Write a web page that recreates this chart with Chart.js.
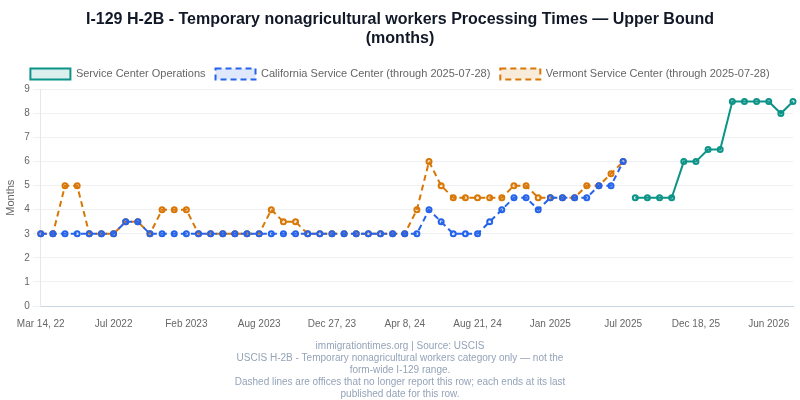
<!DOCTYPE html>
<html>
<head>
<meta charset="utf-8">
<script src="https://cdn.jsdelivr.net/npm/chart.js@4.4.1/dist/chart.umd.min.js"></script>
<style>
html,body{margin:0;padding:0;background:#fff;}
#wrap{width:800px;height:400px;}
</style>
</head>
<body>
<div id="wrap"><canvas id="c"></canvas></div>
<script>
const labels = [
  "Mar 14, 22","Apr 2022","Apr 25, 22","May 2022","May 23, 22","Jun 2022",
  "Jul 2022","Aug 2022","Sep 2022","Oct 2022","Nov 2022","Dec 2022",
  "Feb 2023","Mar 2023","Apr 2023","May 2023","Jun 2023","Jul 2023",
  "Aug 2023","Sep 2023","Oct 2023","Oct 30, 23","Nov 2023","Dec 2023",
  "Dec 27, 23","Jan 2024","Feb 2024","Feb 26, 24","Mar 2024","Mar 25, 24",
  "Apr 8, 24","May 2024","May 20, 24","Jun 2024","Jul 2024","Jul 29, 24",
  "Aug 21, 24","Sep 2024","Oct 2024","Oct 28, 24","Nov 2024","Dec 2024",
  "Jan 2025","Feb 2025","Mar 2025","Apr 2025","May 2025","Jun 2025",
  "Jul 2025","Aug 2025","Sep 2025","Oct 2025","Nov 2025","Nov 20, 25",
  "Dec 18, 25","Jan 2026","Feb 2026","Mar 2026","Apr 2026","May 2026",
  "Jun 2026","Jul 2026","Aug 2026"
];
const serviceCenterOps = [
  null,null,null,null,null,null,null,null,null,null,
  null,null,null,null,null,null,null,null,null,null,
  null,null,null,null,null,null,null,null,null,null,
  null,null,null,null,null,null,null,null,null,null,
  null,null,null,null,null,null,null,null,null,
  4.5,4.5,4.5,4.5,6,6,6.5,6.5,8.5,8.5,8.5,8.5,8,8.5
];
const california = [
  3,3,3,3,3,3,3,3.5,3.5,3,
  3,3,3,3,3,3,3,3,3,3,
  3,3,3,3,3,3,3,3,3,3,
  3,3,4,3.5,3,3,3,3.5,4,4.5,
  4.5,4,4.5,4.5,4.5,4.5,5,5,6,
  null,null,null,null,null,null,null,null,null,null,null,null,null,null
];
const vermont = [
  3,3,5,5,3,3,3,3.5,3.5,3,
  4,4,4,3,3,3,3,3,3,4,
  3.5,3.5,3,3,3,3,3,3,3,3,
  3,4,6,5,4.5,4.5,4.5,4.5,4.5,5,
  5,4.5,4.5,4.5,4.5,5,5,5.5,6,
  null,null,null,null,null,null,null,null,null,null,null,null,null,null
];
const yTicks = [0,1,2,3,4,5,6,7,8,9];

const FONT = "'Liberation Sans', Arial, Helvetica, sans-serif";
Chart.defaults.font.family = FONT;

new Chart(document.getElementById('c'), {
  type: 'line',
  data: {
    labels: labels,
    datasets: [
      {
        label: 'Service Center Operations',
        data: serviceCenterOps,
        borderColor: '#0d9488',
        backgroundColor: 'rgba(13,148,136,0.15)',
        borderWidth: 2,
        pointRadius: 2.5,
        pointBorderWidth: 2,
        tension: 0,
        fill: false,
        spanGaps: false
      },
      {
        label: 'California Service Center (through 2025-07-28)',
        data: california,
        borderColor: '#2563eb',
        backgroundColor: 'rgba(37,99,235,0.15)',
        borderWidth: 2,
        borderDash: [6,4],
        pointRadius: 2.5,
        pointBorderWidth: 2,
        tension: 0,
        fill: false
      },
      {
        label: 'Vermont Service Center (through 2025-07-28)',
        data: vermont,
        borderColor: '#d97706',
        backgroundColor: 'rgba(217,119,6,0.15)',
        borderWidth: 2,
        borderDash: [6,4],
        pointRadius: 2.5,
        pointBorderWidth: 2,
        tension: 0,
        fill: false
      }
    ]
  },
  options: {
    responsive: true,
    maintainAspectRatio: false,
    animation: false,
    layout: { padding: 0 },
    plugins: {
      title: {
        display: true,
        text: ['I-129 H-2B - Temporary nonagricultural workers Processing Times — Upper Bound', '(months)'],
        color: '#111827',
        font: { size: 16, weight: 'bold', family: FONT },
        padding: { top: 10, bottom: 10 }
      },
      legend: {
        display: true,
        position: 'top',
        labels: { color: '#666', font: { size: 11, family: FONT }, boxWidth: 40, boxHeight: 11 }
      },
      subtitle: {
        display: true,
        position: 'bottom',
        text: [
          'immigrationtimes.org | Source: USCIS',
          'USCIS H-2B - Temporary nonagricultural workers category only — not the',
          'form-wide I-129 range.',
          'Dashed lines are offices that no longer report this row; each ends at its last',
          'published date for this row.'
        ],
        color: '#94a3b8',
        font: { size: 10, family: FONT, lineHeight: 1.2 },
        padding: { top: 6, bottom: 0 }
      },
      tooltip: { enabled: false }
    },
    scales: {
      x: {
        type: 'category',
        grid: { display: false },
        border: { color: '#cbd5e1' },
        afterFit: function(scale) { scale.paddingRight = 7; },
        ticks: {
          color: '#666',
          font: { size: 10, family: FONT },
          padding: 4,
          autoSkip: false,
          maxRotation: 0,
          minRotation: 0,
          callback: function(value, index) {
            return index % 6 === 0 ? this.getLabelForValue(value) : '';
          }
        }
      },
      y: {
        min: 0,
        max: 9,
        afterBuildTicks: function(axis) { axis.ticks = yTicks.map(v => ({ value: v })); },
        grid: { color: '#eef0f3' },
        border: { color: '#e5e7eb' },
        ticks: { color: '#666', font: { size: 10, family: FONT }, stepSize: 1 },
        title: { display: true, text: 'Months', color: '#666', font: { size: 11, family: FONT } }
      }
    }
  }
});
</script>
</body>
</html>
